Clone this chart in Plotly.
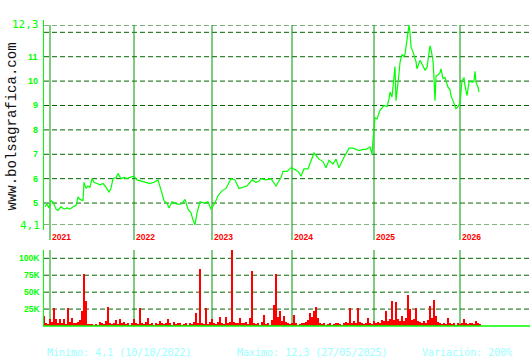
import plotly.graph_objects as go

# ---------------- data ----------------
# session index (trading-session position along the time axis) and close price
price_x = [1, 3, 5, 7, 9, 12, 14, 17, 20, 23, 26, 29, 32, 34, 36, 39, 40, 42, 44, 46,
           48, 50, 53, 56, 59, 62, 65, 67, 69, 72, 74, 77, 80, 83, 86, 90, 93, 97, 100, 104,
           106, 110, 114, 118, 120, 123, 125, 128, 131, 134, 138, 141, 144, 147, 149, 151, 153, 156, 160, 164,
           167, 171, 174, 178, 182, 187, 191, 195, 199, 203, 208, 212, 215, 217, 222, 227, 232, 237, 239, 243,
           247, 252, 255, 257, 260, 264, 270, 272, 275, 279, 282, 285, 289, 292, 295, 299, 302, 305, 309, 312,
           315, 319, 322, 326, 328, 329, 330, 331, 333, 336, 340, 343, 345, 346, 348, 350, 351, 352, 354, 355,
           356, 358, 360, 361, 363, 365, 366, 367, 369, 371, 372, 373, 375, 376, 378, 380, 381, 383, 385, 386,
           387, 389, 390, 391, 392, 394, 396, 397, 399, 401, 402, 404, 406, 407, 409, 411, 412, 414, 416, 418,
           420, 421, 423, 425, 426, 428, 430, 431, 432, 434, 435]
price = [4.85, 4.95, 4.8, 5.1, 5.05, 4.75, 4.7, 4.85, 4.75, 4.8, 4.75, 4.85, 4.9, 5.25, 5.15, 5.1, 5.85, 5.6, 5.7, 5.65,
         6.0, 5.85, 5.8, 5.75, 5.8, 5.65, 5.45, 5.6, 6.0, 6.05, 6.2, 6.0, 6.05, 6.0, 6.05, 6.1, 5.95, 5.9, 5.85, 5.8,
         5.8, 5.85, 5.95, 5.4, 5.1, 5.0, 4.8, 5.05, 5.0, 4.95, 4.97, 5.15, 4.75, 4.6, 4.3, 4.1, 4.6, 5.05, 5.0, 5.05,
         4.75, 5.0, 5.3, 5.5, 5.6, 6.0, 5.95, 5.6, 5.65, 5.7, 5.95, 5.85, 5.9, 6.0, 5.95, 6.0, 5.7, 6.05, 6.3, 6.3,
         6.45, 6.35, 6.25, 6.1, 6.4, 6.4, 7.05, 6.95, 6.8, 6.7, 6.45, 6.75, 6.6, 6.8, 6.45, 6.8, 7.0, 7.25, 7.25, 7.2,
         7.15, 7.2, 7.2, 7.3, 7.0, 7.6, 8.1, 8.5, 8.45, 8.8, 9.0, 8.95, 9.27, 9.55, 9.35, 10.1, 10.6, 9.2, 9.85, 10.3,
         10.77, 11.1, 11.0, 11.1, 11.7, 12.3, 12.0, 11.4, 11.2, 10.95, 10.8, 10.5, 10.75, 10.85, 10.7, 10.55, 10.45, 10.55, 11.2, 11.45,
         11.3, 10.85, 10.1, 9.2, 10.2, 10.25, 10.35, 10.5, 10.1, 10.15, 10.0, 9.75, 9.65, 9.4, 9.2, 9.0, 8.87, 8.95, 9.1, 10.0,
         10.15, 9.8, 9.4, 9.95, 10.0, 9.95, 10.0, 10.4, 9.95, 9.75, 9.55]

# volume (thousands) every 2 sessions
vol_k = [15, 5, 3, 10, 6, 27, 10, 4, 10, 5, 11, 3, 27, 6, 12, 5, 4, 6, 9, 22, 77,
         37, 3, 3, 3, 2, 3, 2, 6, 4, 3, 7, 28, 4, 3, 5, 9, 3, 10, 4, 6,
         3, 4, 2, 5, 11, 4, 3, 27, 5, 3, 6, 12, 3, 4, 2, 5, 3, 7, 4, 3,
         5, 11, 4, 2, 6, 3, 5, 4, 2, 3, 5, 2, 4, 3, 6, 19, 5, 84, 4, 3,
         26, 3, 6, 11, 4, 3, 6, 13, 5, 3, 13, 4, 6, 112, 6, 5, 4, 12, 5, 4,
         6, 3, 12, 81, 5, 3, 4, 2, 6, 16, 3, 4, 2, 9, 31, 77, 14, 22, 8, 15,
         6, 4, 3, 5, 16, 4, 2, 3, 5, 4, 6, 9, 19, 14, 22, 28, 12, 5, 3, 4,
         2, 3, 4, 2, 3, 5, 4, 3, 2, 4, 6, 5, 27, 4, 7, 5, 27, 6, 4, 3,
         5, 12, 4, 3, 8, 4, 6, 5, 9, 7, 22, 8, 10, 37, 9, 35, 11, 8, 15, 7,
         12, 46, 25, 9, 10, 27, 8, 6, 5, 7, 4, 9, 30, 12, 38, 15, 6, 4, 3, 5,
         3, 12, 4, 3, 5, 2, 4, 3, 5, 11, 4, 3, 5, 4, 3, 8, 4, 3]
vol_x = list(range(0, 2 * len(vol_k), 2))

years = ["2021", "2022", "2023", "2024", "2025", "2026"]
year_x = [6, 90, 168, 248, 330, 416]

price_grid = [4.1, 5, 6, 7, 8, 9, 10, 11, 12, 12.3]
price_labels = ["5", "6", "7", "8", "9", "10", "11"]
price_label_vals = [5, 6, 7, 8, 9, 10, 11]
vol_grid = [25, 50, 75, 100]
vol_labels = ["25K", "50K", "75K", "100K"]

footer = ["Minimo: 4,1 (10/10/2022)", "Maximo: 12,3 (27/05/2025)", "Variación: 200%"]

# ---------------- layout helpers ----------------
W, H = 530, 360
def px_x(p):
    return p / W
def px_y(p):
    return 1 - p / H

LIME = "#00ff00"
GRID = "#006600"
YEARC = "#009900"

fig = go.Figure()
fig.add_trace(go.Scatter(x=price_x, y=price, mode="lines",
                         line=dict(color=LIME, width=1.2), xaxis="x", yaxis="y",
                         hoverinfo="skip"))
fig.add_trace(go.Bar(x=vol_x, y=vol_k, width=1.3, marker=dict(color="#ff0000", line=dict(width=0)),
                     xaxis="x2", yaxis="y2", hoverinfo="skip"))

shapes = []
annos = []
for v in price_grid:
    shapes.append(dict(type="line", xref="paper", yref="y", x0=px_x(44), x1=1, y0=v, y1=v,
                       line=dict(color=GRID, width=1, dash="5px,3px"), layer="below"))
for v in vol_grid:
    shapes.append(dict(type="line", xref="paper", yref="y2", x0=px_x(44), x1=1, y0=v, y1=v,
                       line=dict(color=GRID, width=1, dash="5px,3px"), layer="below"))
for xv in year_x:
    shapes.append(dict(type="line", xref="x", yref="paper", x0=xv, x1=xv,
                       y0=px_y(240), y1=px_y(25), line=dict(color=YEARC, width=1), layer="below"))
    shapes.append(dict(type="line", xref="x2", yref="paper", x0=xv, x1=xv,
                       y0=px_y(326), y1=px_y(250), line=dict(color=YEARC, width=1), layer="below"))
shapes.append(dict(type="line", xref="paper", yref="paper", x0=px_x(43.5), x1=px_x(43.5),
                   y0=px_y(230), y1=px_y(20), line=dict(color=LIME, width=1)))
shapes.append(dict(type="line", xref="paper", yref="paper", x0=px_x(43.5), x1=px_x(43.5),
                   y0=px_y(326), y1=px_y(250), line=dict(color=LIME, width=1)))
shapes.append(dict(type="line", xref="paper", yref="paper", x0=px_x(43), x1=1,
                   y0=px_y(326), y1=px_y(326), line=dict(color=LIME, width=1.5)))

for t, v in zip(price_labels, price_label_vals):
    annos.append(dict(text="<b>%s</b>" % t, xref="paper", yref="y", x=px_x(40), y=v,
                      xanchor="right", yanchor="middle", showarrow=False,
                      font=dict(family="Liberation Sans", size=9, color=LIME)))
annos.append(dict(text="12,3", xref="paper", yref="y", x=px_x(41), y=12.3,
                  xanchor="right", yanchor="middle", showarrow=False,
                  font=dict(family="DejaVu Sans Mono", size=11, color=LIME)))
annos.append(dict(text="4,1", xref="paper", yref="y", x=px_x(42), y=4.1,
                  xanchor="right", yanchor="middle", showarrow=False,
                  font=dict(family="DejaVu Sans Mono", size=11, color=LIME)))
for t, v in zip(vol_labels, vol_grid):
    annos.append(dict(text="<b>%s</b>" % t, xref="paper", yref="y2", x=px_x(42), y=v,
                      xanchor="right", yanchor="middle", showarrow=False,
                      font=dict(family="Liberation Sans", size=8.5, color=LIME)))
for t, xv in zip(years, year_x):
    annos.append(dict(text="<b>%s</b>" % t, xref="x", yref="paper", x=xv, y=px_y(236.5),
                      xanchor="left", yanchor="middle", showarrow=False,
                      font=dict(family="Liberation Sans", size=8.5, color="#ff0000")))
for t, xp in zip(footer, [45, 235, 420]):
    annos.append(dict(text=t, xref="paper", yref="paper", x=px_x(xp), y=px_y(352),
                      xanchor="left", yanchor="middle", showarrow=False,
                      font=dict(family="DejaVu Sans Mono", size=10, color="#99ffff")))
annos.append(dict(text="www.bolsagrafica.com", xref="paper", yref="paper", x=px_x(12), y=px_y(126.5),
                  xanchor="center", yanchor="middle", showarrow=False, textangle=-90,
                  font=dict(family="Liberation Mono", size=14, color="#111111")))

fig.update_layout(
    width=W, height=H, margin=dict(l=0, r=0, t=0, b=0),
    paper_bgcolor="white", plot_bgcolor="white", showlegend=False,
    xaxis=dict(domain=[px_x(44), 1], range=[0, 486], visible=False, fixedrange=True),
    yaxis=dict(domain=[px_y(225), px_y(25)], range=[4.1, 12.3], visible=False, fixedrange=True),
    xaxis2=dict(domain=[px_x(44), 1], range=[0, 486], visible=False, anchor="y2", fixedrange=True),
    yaxis2=dict(domain=[px_y(326), px_y(250)], range=[0, 112.3], visible=False, anchor="x2", fixedrange=True),
    shapes=shapes, annotations=annos, bargap=0,
)
fig.write_html("out.html", config={"displayModeBar": False, "staticPlot": True})
